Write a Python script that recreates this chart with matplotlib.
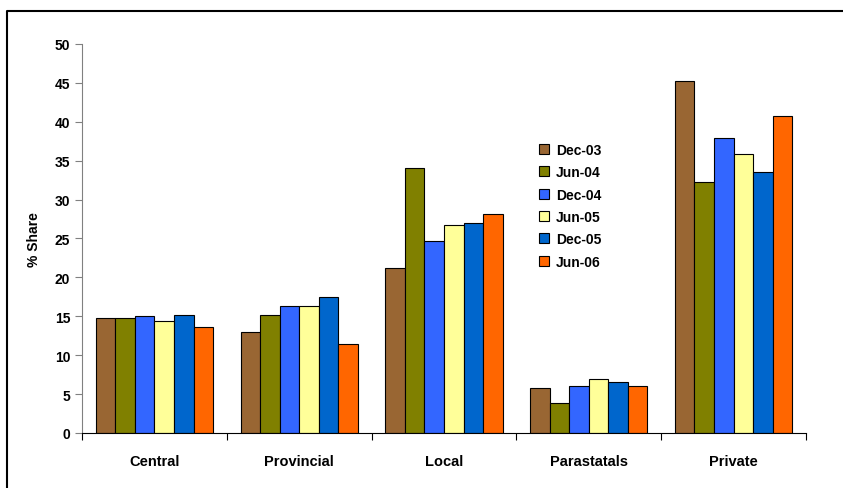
import numpy as np
import matplotlib.pyplot as plt
from matplotlib.lines import Line2D

plt.rcParams['font.family'] = ['Liberation Sans', 'DejaVu Sans']
plt.rcParams['font.weight'] = 'bold'

sectors = ["Central", "Provincial", "Local", "Parastatals", "Private"]
periods = ["Dec-03", "Jun-04", "Dec-04", "Jun-05", "Dec-05", "Jun-06"]

dec03 = [14.8, 13.0, 21.2, 5.8, 45.3]
jun04 = [14.8, 15.2, 34.1, 3.8, 32.2]
dec04 = [15.0, 16.3, 24.7, 6.0, 37.9]
jun05 = [14.4, 16.3, 26.7, 6.9, 35.9]
dec05 = [15.2, 17.5, 27.0, 6.6, 33.6]
jun06 = [13.6, 11.5, 28.1, 6.1, 40.7]

colors = ["#996633", "#808000", "#3366FF", "#FFFF99", "#0066CC", "#FF6600"]

series = [dec03, jun04, dec04, jun05, dec05, jun06]

fig = plt.figure(figsize=(8.43, 4.89), dpi=100)
ax = fig.add_axes([0.0973, 0.1125, 0.8587, 0.7955])

x = np.arange(len(sectors))
w = 0.135
for i, (vals, lab, col) in enumerate(zip(series, periods, colors)):
    ax.bar(x + (i - 2.5) * w, vals, width=w, color=col, edgecolor="black",
           linewidth=0.8, label=lab)

ax.set_xlim(-0.5, len(sectors) - 0.5)
ax.set_ylim(0, 50)
ax.set_yticks(np.arange(0, 51, 5))
ax.set_xticks(x)
ax.set_xticklabels(sectors, fontsize=10.5, fontweight="bold")
ax.tick_params(axis="x", length=0, pad=15)
ax.set_xticks(np.arange(-0.5, len(sectors), 1), minor=True)
ax.tick_params(axis="x", which="minor", length=5, width=0.8, direction="out")
ax.tick_params(axis="y", labelsize=10, length=5, width=0.8, color="#808080")
for t in ax.get_yticklabels():
    t.set_fontweight("bold")

ax.spines["top"].set_visible(False)
ax.spines["right"].set_visible(False)
ax.spines["left"].set_color("#808080")
ax.spines["bottom"].set_color("black")
ax.set_ylabel("% Share", fontsize=10, fontweight="bold", labelpad=10)

ax.legend(loc="upper left", bbox_to_anchor=(0.614, 0.778), frameon=False,
          handlelength=0.7, handleheight=0.7, handletextpad=0.5,
          labelspacing=0.6, prop={"weight": "bold", "size": 10})

# outer frame along top and left
fig.add_artist(Line2D([7 / 843, 7 / 843, 1.0], [0.0, 1 - 12 / 489, 1 - 12 / 489],
                      transform=fig.transFigure, color="black", linewidth=1.5))

fig.savefig("out.png", dpi=100)
